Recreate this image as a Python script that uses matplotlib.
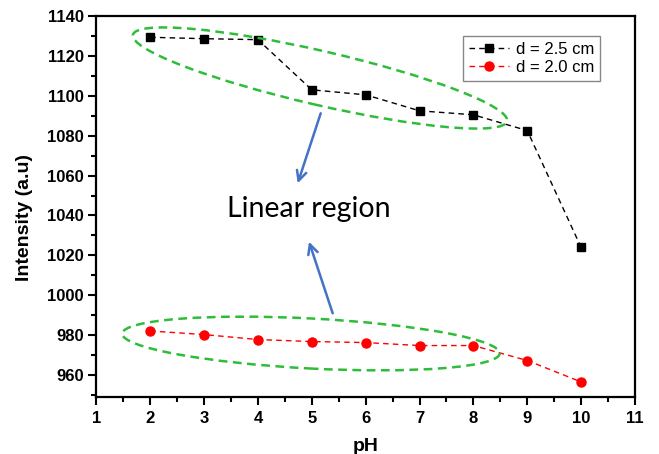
import matplotlib
matplotlib.use("Agg")
import matplotlib.pyplot as plt
from matplotlib.patches import Ellipse
from matplotlib.ticker import MultipleLocator

# pH values and intensities
ph = [2, 3, 4, 5, 6, 7, 8, 9, 10]
intensity_25 = [1129.2, 1128.5, 1128.0, 1102.9, 1100.4, 1092.4, 1090.4, 1082.5, 1024.0]
intensity_20 = [982.2, 980.4, 977.9, 976.9, 976.4, 974.9, 974.9, 967.4, 956.7]
labels = ["d = 2.5 cm", "d = 2.0 cm"]

W, H = 659, 454
plt.rcParams['font.family'] = ['Liberation Sans', 'DejaVu Sans']

fig = plt.figure(figsize=(W / 100, H / 100), dpi=100)
ax = fig.add_axes([96.3 / W, 56.7 / H, (635 - 96.3) / W, (438.3 - 56.7) / H])

ax.plot(ph, intensity_25, color='black', linestyle=(0, (4, 3)), lw=1,
        marker='s', markersize=6, label=labels[0])
ax.plot(ph, intensity_20, color='red', linestyle=(0, (4, 3)), lw=1,
        marker='o', markersize=6.5, label=labels[1])

ax.set_xlim(1, 11)
ax.set_ylim(949, 1140)
ax.xaxis.set_major_locator(MultipleLocator(1))
ax.xaxis.set_minor_locator(MultipleLocator(0.5))
ax.yaxis.set_major_locator(MultipleLocator(20))
ax.yaxis.set_minor_locator(MultipleLocator(10))
ax.tick_params(which='major', direction='out', length=6, width=1.5, labelsize=12)
ax.tick_params(which='minor', direction='out', length=3.5, width=1.5)
ax.tick_params(axis='x', pad=4)
ax.tick_params(axis='y', pad=3)
for t in ax.get_xticklabels() + ax.get_yticklabels():
    t.set_fontweight('bold')
for s in ax.spines.values():
    s.set_linewidth(1.6)

ax.set_xlabel('pH', fontsize=14, fontweight='bold', labelpad=8.5)
ax.set_ylabel('Intensity (a.u)', fontsize=14, fontweight='bold')
ax.yaxis.set_label_coords(-0.117, 0.471)

leg = ax.legend(loc='upper right', bbox_to_anchor=(0.935, 0.947), borderaxespad=0,
                fontsize=12, handlelength=2.4, handletextpad=0.4, borderpad=0.35,
                labelspacing=0.2, fancybox=False, framealpha=1)
leg.get_frame().set_edgecolor('#888888')
leg.get_frame().set_linewidth(1)

# green dashed rings round the linear parts (image pixels, y down)
green = '#2EBD3A'
for cx, cy, w, h, ang in [(320, 78, 384, 54, -13), (311, 343.5, 378, 50, -3)]:
    e = Ellipse((cx / 100, (H - cy) / 100), w / 100, h / 100, angle=ang,
                transform=fig.dpi_scale_trans, fill=False, edgecolor=green,
                lw=1.8, linestyle=(0, (3.5, 2.2)), zorder=5)
    fig.add_artist(e)

# blue arrows pointing at the label
blue = '#4472C4'
for start, end in [((320.7, 113.3), (297.7, 183.3)), ((332.7, 313.3), (309, 241.7))]:
    ax.annotate('', xy=(end[0], H - end[1]), xytext=(start[0], H - start[1]),
                xycoords='figure pixels', textcoords='figure pixels',
                arrowprops=dict(arrowstyle='->,head_length=0.7,head_width=0.35',
                                color=blue, lw=1.8, shrinkA=0, shrinkB=0))

ax.annotate('Linear region', xy=(308.8, H - 216.7), xycoords='figure pixels',
            ha='center', va='baseline', fontsize=20.5, family=['Lato', 'DejaVu Sans'])

fig.savefig('out.png', dpi=100)
